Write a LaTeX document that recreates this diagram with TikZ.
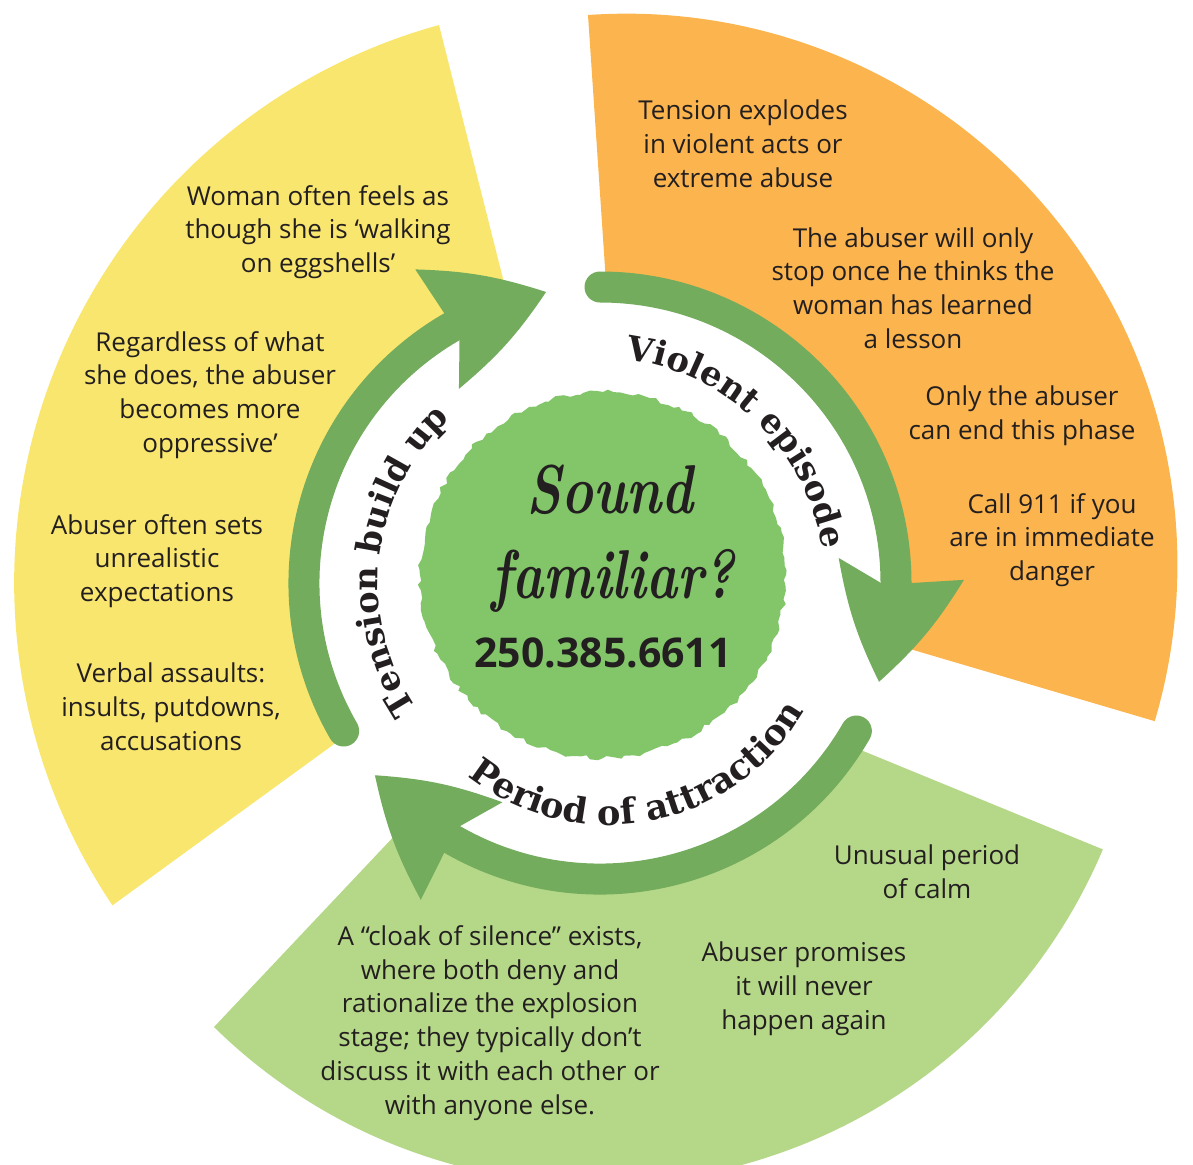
\documentclass[tikz,border=0pt]{standalone}
\usepackage{fontspec}
\usepackage{xcolor}
\usepackage{graphicx}
\usetikzlibrary{decorations.text, decorations.pathmorphing}
\newfontfamily\bodyfont{Open Sans}
\newfontfamily\ringfont{DejaVu Serif}
\definecolor{sunyellow}{RGB}{249,230,110}
\definecolor{sunorange}{RGB}{251,180,78}
\definecolor{palegreen}{RGB}{181,216,136}
\definecolor{arrowgreen}{RGB}{114,172,92}
\definecolor{blobgreen}{RGB}{131,198,106}
\definecolor{ink}{RGB}{35,31,32}

\begin{document}
\begin{tikzpicture}[x=0.5pt,y=-0.5pt]
    \tikzstyle{bodytext}=[align=center,text=ink,inner sep=0pt,font=\bodyfont\fontsize{13}{16.9}\selectfont]
    \tikzstyle{scripttext}=[text=ink,inner sep=0pt,font=\rmfamily\itshape\bfseries\fontsize{32}{32}\selectfont]
    \tikzstyle{band}=[draw=arrowgreen,line width=15.5pt,line cap=round]
    \tikzstyle{head}=[fill=arrowgreen]
    \tikzstyle{ringlabel}=[decorate,decoration={text along path,text align=center,text color=ink}]
    \useasboundingbox (0,0) rectangle (1193,1164);
    \clip (0,0) rectangle (1193,1164);

    \fill[sunyellow] (576,568) -- (439,25) arc (254.6:146.1:578.5) -- cycle;
    \fill[sunorange] (625,565) -- (588,15) arc (-94:16.5:551) -- cycle;
    \fill[palegreen] (583,636) -- (214,1027) arc (134.5:22.9:548) -- cycle;
    \fill[white] (600,583) circle (300);
    \fill[blobgreen,decorate,decoration={random steps,segment length=3pt,amplitude=1.2pt}] (603,575) circle (183);

    \begin{scope}[shift={(600,583)}]
    \foreach \base/\tail in {240/150,360/270,120/30} {
        \draw[band] (\tail:296) arc (\tail:\base:296);
        \fill[head] (\base:312) -- ({\base-0.5}:364) to[bend left=8] ({\base+19.5}:296)
            to[bend left=8] ({\base-6}:240) -- (\base:281) -- cycle;
    }
    \path[ringlabel,decoration={text={|\ringfont\bfseries\fontsize{16.8}{17}\selectfont|Tension build up}}]
        (126.6:222) arc (126.6:246.6:222);
    \path[ringlabel,decoration={text={|\ringfont\bfseries\fontsize{17}{17}\selectfont|Violent episode}}]
        (254:225) arc (254:374:225);
    \end{scope}
    \begin{scope}[shift={(608,600)}]
    \path[ringlabel,decoration={text={|\ringfont\bfseries\fontsize{17.6}{18}\selectfont|Period of attraction}}]
        (140:225) arc (140:18:225);
    \end{scope}

    \node (sound)[scripttext,anchor=base] at (610,513) {\scalebox{0.84}[1.08]{Sound}};
    \node (familiar)[scripttext,anchor=base] at (613,598) {\scalebox{0.82}[1.08]{familiar?}};
    \node (phone)[anchor=base,text=ink,inner sep=0pt,font=\bodyfont\bfseries\fontsize{20.5}{20.5}\selectfont] at (603,667) {250.385.6611};

    \node (y1)[bodytext] at (318,232) {Woman often feels as\\though she is ‘walking\\on eggshells’};
    \node (y2)[bodytext] at (210,395) {Regardless of what\\she does, the abuser\\becomes more\\oppressive’};
    \node (y3)[bodytext] at (157,561) {Abuser often sets\\unrealistic\\expectations};
    \node (y4)[bodytext] at (171,707) {Verbal assaults:\\insults, putdowns,\\accusations};

    \node (o1)[bodytext] at (743,144) {Tension explodes\\in violent acts or\\extreme abuse};
    \node (o2)[bodytext] at (913,288) {The abuser will only\\stop once he thinks the\\woman has learned\\a lesson};
    \node (o3)[bodytext] at (1022,416) {Only the abuser\\can end this phase};
    \node (o4)[bodytext] at (1052,540) {Call 911 if you\\are in immediate\\danger};

    \node (g1)[bodytext] at (927,872) {Unusual period\\of calm};
    \node (g2)[bodytext] at (804,989) {Abuser promises\\it will never\\happen again};
    \node (g3)[bodytext] at (490,1023) {A “cloak of silence” exists,\\where both deny and\\rationalize the explosion\\stage; they typically don’t\\discuss it with each other or\\with anyone else.};
\end{tikzpicture}
\end{document}
